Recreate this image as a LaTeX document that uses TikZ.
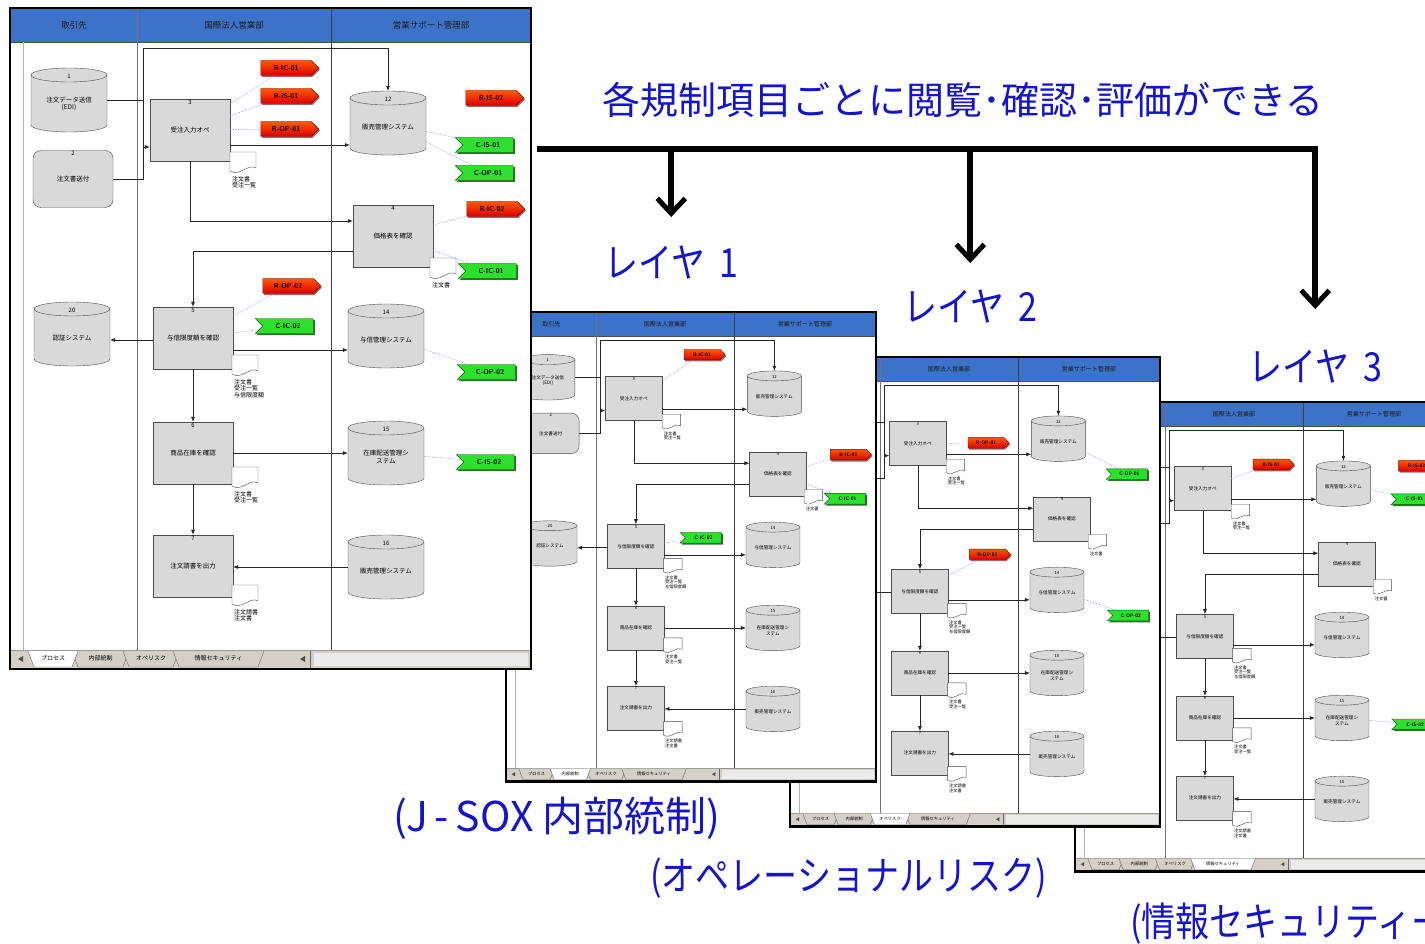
\documentclass[tikz,border=0pt]{standalone}
\usepackage{fontspec}
\newfontfamily\jpfont{Noto Sans CJK JP}
\newfontfamily\jpnarrow[FakeStretch=0.85]{Noto Sans CJK JP}
\usepackage{tikz}
\usetikzlibrary{calc, positioning, arrows.meta, shapes.symbols, shadows}

\definecolor{hdrblue}{HTML}{3C73C8}
\definecolor{capblue}{HTML}{1414C8}
\definecolor{boxgray}{HTML}{D9D9D9}
\definecolor{tabgray}{HTML}{D4D0C8}
\definecolor{taggreen}{HTML}{2EE02E}

\tikzset{
    hdr/.style={font=\jpfont\fontsize{8.5}{9}\selectfont, text=black!90},
    procbox/.style={rectangle, draw=black!70, fill=boxgray, minimum width=80pt, minimum height=62pt, inner sep=1pt, align=center, font=\jpfont\fontsize{6.5}{7.5}\selectfont},
    roundbox/.style={procbox, rounded corners=8pt, minimum height=57pt},
    dbspot/.style={rectangle, minimum width=76pt, minimum height=64pt, inner sep=0pt},
    cylside/.style={draw=black!70, fill=boxgray},
    numlbl/.style={font=\jpfont\fontsize{6}{6.5}\selectfont, inner sep=1pt},
    dbtext/.style={font=\jpfont\fontsize{6.5}{7.5}\selectfont, align=center, inner sep=0pt},
    docicon/.style={draw=black!70, fill=white},
    doclabel/.style={font=\jpfont\fontsize{6}{6.6}\selectfont, align=left, anchor=north west, inner sep=0pt},
    flow/.style={-{Latex[length=5pt, width=4pt]}, black!85, line width=0.6pt},
    flowline/.style={black!85, line width=0.6pt},
    tagline/.style={densely dotted, blue!45, line width=0.6pt},
    redtag/.style={signal, signal to=east, draw=red!55!black, top color=orange!70!red, bottom color=red!85!black, minimum width=58pt, minimum height=15pt, inner sep=1pt, font=\sffamily\bfseries\fontsize{7}{7}\selectfont, drop shadow={shadow xshift=1pt, shadow yshift=-1.5pt, fill=red!40!black, opacity=0.6}},
    greentag/.style={signal, signal from=west, signal to=nowhere, draw=green!35!black, fill=taggreen, minimum width=58pt, minimum height=15pt, inner sep=1pt, font=\sffamily\bfseries\fontsize{7}{7}\selectfont, drop shadow={shadow xshift=1.5pt, shadow yshift=-1.5pt, fill=green!30!black, opacity=0.8}},
    tabtext/.style={font=\jpfont\fontsize{6}{6.5}\selectfont, inner sep=0pt},
    bigcap/.style={text=capblue, font=\jpfont\fontsize{38}{40}\selectfont, inner sep=0pt},
    laycap/.style={text=capblue, font=\jpnarrow\fontsize{40}{42}\selectfont, inner sep=0pt, anchor=west},
    soxcap/.style={text=capblue, font=\jpfont\fontsize{41}{43}\selectfont, inner sep=0pt, anchor=west},
    bar/.style={line width=6pt},
    drop/.style={line width=6pt, -{Straight Barb[length=15pt, width=28pt, line width=5pt]}},
}

% process step with its number
\newcommand\stepbox[5]{%
    \node[procbox] (#1) at (#2,#3) {#5};
    \node[numlbl, below=0pt of #1.north] {#4};
}
% database cylinder
\newcommand\dbcyl[5]{%
    \node[dbspot] (#1) at (#2,#3) {};
    \filldraw[cylside] (#2-38,#3-25) -- (#2-38,#3+25) arc[start angle=180, end angle=0, x radius=38, y radius=7]
        -- (#2+38,#3-25) arc[start angle=0, end angle=-180, x radius=38, y radius=7] -- cycle;
    \draw[black!70] (#2-38,#3-25) arc[start angle=180, end angle=0, x radius=38, y radius=7];
    \node[numlbl] at (#2,#3-24) {#4};
    \node[dbtext] at (#2,#3+4) {#5};
}
% document icon with caption
\newcommand\docicon[3]{%
    \filldraw[docicon] (#1-13,#2-10) -- (#1+13,#2-10) -- (#1+13,#2+6)
        .. controls (#1+5,#2+1) and (#1-3,#2+15) .. (#1-13,#2+9) -- cycle;
    \node[doclabel] at (#1-11,#2+14) {#3};
}
% one sheet tab
\newcommand\sheettab[4]{%
    \filldraw[fill=#3, draw=black!60] (#1-4,643) -- (#1+2,659) -- (#2-2,659) -- (#2+4,643);
    \node[tabtext] at ({(#1+#2)/2},650) {#4};
}
\newcommand\tabbar[1]{%
    \fill[tabgray] (0,642) rectangle (521,661);
    \draw[black!40] (0,642) -- (521,642);
    \fill[black!8] (304,645) rectangle (518,658);
    \draw[black!60] (300,643) -- (300,660);
    \fill[black!70] (290,651) -- (295,648) -- (295,654) -- cycle;
    \fill[black!70] (8,651) -- (13,648) -- (13,654) -- cycle;
    \foreach \xa/\xb/\txt [count=\i] in {22/64/プロセス, 66/115/内部統制, 117/165/オペリスク, 167/250/情報セキュリティ}{
        \ifnum\i=#1\else\sheettab{\xa}{\xb}{tabgray}{\txt}\fi
    }
    \foreach \xa/\xb/\txt [count=\i] in {22/64/プロセス, 66/115/内部統制, 117/165/オペリスク, 167/250/情報セキュリティ}{
        \ifnum\i=#1\sheettab{\xa}{\xb}{white}{\txt}\fi
    }
}

% tag sets
\newcommand\tagsIC{%
    \node[redtag] (ric1) at (276,60) {R-IC-01};
    \node[redtag] (ric2) at (482,201) {R-IC-02};
    \node[greentag] (cic1) at (481,263) {C-IC-01};
    \node[greentag] (cic2) at (278,318) {C-IC-02};
    \draw[tagline] (b3) -- (ric1);
    \draw[tagline] (b4) -- (ric2);
    \draw[tagline] (b4) -- (cic1);
    \draw[tagline] (b5) -- (cic2);
}
\newcommand\tagsIS{%
    \node[redtag] (ris1) at (276,88) {R-IS-01};
    \node[redtag] (ris2) at (481,90) {R-IS-02};
    \node[greentag] (cis1) at (478,137) {C-IS-01};
    \node[greentag] (cis2) at (479,454) {C-IS-02};
    \draw[tagline] (b3) -- (ris1);
    \draw[tagline] (c12) -- (cis1);
    \draw[tagline] (c15) -- (cis2);
}
\newcommand\tagsOP{%
    \node[redtag] (rop1) at (276,121) {R-OP-01};
    \node[greentag] (cop1) at (478,165) {C-OP-01};
    \node[redtag] (rop2) at (278,278) {R-OP-02};
    \node[greentag] (cop2) at (480,364) {C-OP-02};
    \draw[tagline] (b3) -- (rop1);
    \draw[tagline] (c12) -- (cop1);
    \draw[tagline] (b5) -- (rop2);
    \draw[tagline] (c14) -- (cop2);
}

% whole spreadsheet: #1 selected tab, #2 tags
\newcommand\flowsheet[2]{%
    \fill[white] (0,0) rectangle (521,661);
    \fill[hdrblue] (0,0) rectangle (521,34);
    \draw[black!70] (0,34) -- (521,34);
    \draw[black!30] (13,34) -- (13,642);
    \draw[black!55] (127,0) -- (127,642);
    \draw[black!75] (321,0) -- (321,642);
    \node[hdr] at (64,17) {取引先};
    \node[hdr] at (224,17) {国際法人営業部};
    \node[hdr] at (421,17) {営業サポート管理部};
    % shapes
    \dbcyl{c1}{59}{92}{1}{注文データ送信\\(EDI)}
    \node[roundbox] (p2) at (63,171) {注文書送付};
    \node[numlbl, below=0pt of p2.north] {2};
    \stepbox{b3}{180}{122}{3}{受注入力オペ}
    \docicon{233}{154}{注文書\\受注一覧}
    \dbcyl{c12}{378}{115}{12}{販売管理システム}
    \stepbox{b4}{383}{228}{4}{価格表を確認}
    \docicon{433}{260}{注文書}
    \stepbox{b5}{183}{330}{5}{与信限度額を確認}
    \docicon{235}{357}{注文書\\受注一覧\\与信限度額}
    \dbcyl{c20}{62}{326}{20}{認証システム}
    \dbcyl{c14}{376}{328}{14}{与信管理システム}
    \stepbox{b6}{183}{445}{6}{商品在庫を確認}
    \docicon{235}{469}{注文書\\受注一覧}
    \dbcyl{c15}{376}{445}{15}{在庫配送管理シ\\ステム}
    \stepbox{b7}{183}{558}{7}{注文請書を出力}
    \docicon{235}{587}{注文請書\\注文書}
    \dbcyl{c16}{376}{559}{16}{販売管理システム}
    % flows
    \draw[flow] (c1.east) -| (133,40) -| (c12.north);
    \draw[flow] (c1.east) -| (133,139) -- (b3.west |- 0,139);
    \draw[flowline] (p2.east) -| (133,139);
    \draw[flow] (b3.east |- 0,137) -- (c12.west |- 0,137);
    \draw[flow] (b3.south) |- (b4.west |- 0,213);
    \draw[flow] (b4.west |- 0,243) -| (b5.north);
    \draw[flow] (b5.west |- 0,332) -- (c20.east |- 0,332);
    \draw[flow] (b5.east |- 0,342) -- (c14.west |- 0,342);
    \draw[flow] (b5.south) -- (b6.north);
    \draw[flow] (b6.east) -- (c15.west);
    \draw[flow] (b6.south) -- (b7.north);
    \draw[flow] (c16.west) -- (b7.east |- c16.west);
    % tags
    #2
    % sheet tabs and frame
    \tabbar{#1}
    \draw[line width=2.8pt] (0,0) rectangle (521,661);
}

\begin{document}
\begin{tikzpicture}[x=1pt, y=-1pt]
    \useasboundingbox (0,0) rectangle (1425,944);
    \clip (0,0) rectangle (1425,944);
    \fill[white] (0,0) rectangle (1425,944);

    % Layer 3 sheet (information security)
    \begin{scope}[shift={(1075,402)}, scale=0.71, transform shape, name prefix=s4-]
        \flowsheet{4}{\tagsIS}
    \end{scope}
    % Layer 2 sheet (operational risk)
    \begin{scope}[shift={(790,357)}, scale=0.71, transform shape, name prefix=s3-]
        \flowsheet{3}{\tagsOP}
    \end{scope}
    % Layer 1 sheet (internal control)
    \begin{scope}[shift={(506,312)}, scale=0.71, transform shape, name prefix=s2-]
        \flowsheet{2}{\tagsIC}
    \end{scope}
    % Process sheet
    \begin{scope}[shift={(10,8)}, name prefix=s1-]
        \flowsheet{1}{\tagsIC\tagsIS\tagsOP}
    \end{scope}

    % Caption and layer pointers
    \node[bigcap] (cap) at (963,100) {各規制項目ごとに閲覧･確認･評価ができる};
    \node[laycap] (lay1) at (604,262) {レイヤ\ \,1};
    \node[laycap] (lay2) at (903,306) {レイヤ\ \,2};
    \node[laycap] (lay3) at (1248,366) {レイヤ\ \,3};
    \coordinate (barL) at (537,149);
    \draw[drop] (barL) -| ([yshift=40pt]lay3.north);
    \draw[drop] (barL -| lay1.north) -- ([yshift=28pt]lay1.north);
    \draw[drop] (barL -| lay2.north) -- ([yshift=26pt]lay2.north);

    % Layer names
    \node[soxcap] (nm1) at (393,818) {(J\,-\,SOX\ 内部統制)};
    \node[laycap] (nm2) at (650,878) {(オペレーショナルリスク)};
    \node[laycap] (nm3) at (1130,924) {(情報セキュリティー};
\end{tikzpicture}
\end{document}
